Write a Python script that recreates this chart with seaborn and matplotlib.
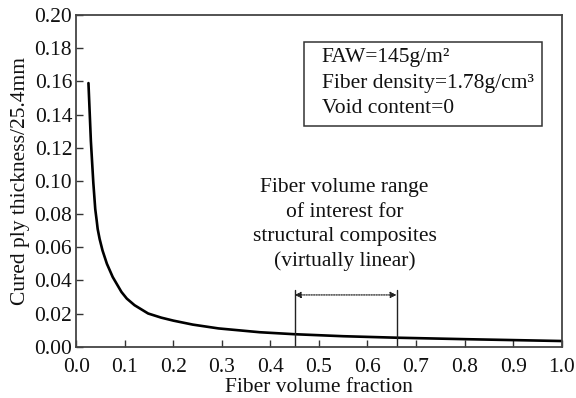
import matplotlib
matplotlib.use("Agg")
import matplotlib.pyplot as plt
from matplotlib.patches import Rectangle
import seaborn as sns
import pandas as pd

# Data
fiber_volume = [0.025, 0.030, 0.035, 0.039, 0.042, 0.044, 0.048, 0.054, 0.063, 0.075,
                0.083, 0.093, 0.104, 0.120, 0.148, 0.175, 0.200, 0.240, 0.293, 0.378,
                0.450, 0.550, 0.660, 0.804, 1.000]
ply_thickness = [0.159, 0.124, 0.099, 0.083, 0.076, 0.071, 0.065, 0.058, 0.050, 0.042,
                 0.038, 0.033, 0.029, 0.025, 0.020, 0.0175, 0.0157, 0.0133, 0.0110, 0.0087,
                 0.0075, 0.0063, 0.0054, 0.0045, 0.0034]

range_bounds = [0.45, 0.66]
x_ticks = [0.0, 0.1, 0.2, 0.3, 0.4, 0.5, 0.6, 0.7, 0.8, 0.9, 1.0]
y_ticks = [0.00, 0.02, 0.04, 0.06, 0.08, 0.10, 0.12, 0.14, 0.16, 0.18, 0.20]
box_lines = ["FAW=145g/m²", "Fiber density=1.78g/cm³", "Void content=0"]
range_label = ["Fiber volume range", "of interest for", "structural composites", "(virtually linear)"]

sns.set_style("ticks")
plt.rcParams["font.family"] = ["Liberation Serif", "DejaVu Serif"]

df = pd.DataFrame({"vf": fiber_volume, "t": ply_thickness})

fig = plt.figure(figsize=(5.76, 3.98), dpi=100)
ax = fig.add_axes([0.1325, 0.129, 0.8425, 0.833])

sns.lineplot(data=df, x="vf", y="t", ax=ax, color="black", linewidth=1.9, sort=True)

FS = 15.5
ax.set_xlim(0.0, 1.0)
ax.set_ylim(0.0, 0.20)
ax.set_xticks(x_ticks)
ax.set_yticks(y_ticks)
ax.set_xticklabels([f"{v:.1f}" for v in x_ticks])
ax.set_yticklabels([f"{v:.2f}" for v in y_ticks])
ax.tick_params(direction="in", length=5, width=1.0, color="#333333",
               labelsize=FS, labelcolor="#111111", top=False, right=False)
ax.tick_params(axis="x", pad=8)
ax.tick_params(axis="y", pad=3)
for sp in ax.spines.values():
    sp.set_visible(True)
    sp.set_color("#444444")
    sp.set_linewidth(1.3)

ax.set_xlabel("Fiber volume fraction", fontsize=FS, color="#111111", labelpad=1)
ax.set_ylabel("Cured ply thickness/25.4mm", fontsize=FS, color="#111111", labelpad=3)

# range markers
for b in range_bounds:
    ax.plot([b, b], [0.0, 0.0342], color="#222222", linewidth=1.0)
ax.annotate("", xy=(range_bounds[1], 0.0312), xytext=(range_bounds[0], 0.0312),
            arrowprops=dict(arrowstyle="<|-|>", color="#222222", lw=0.9,
                            linestyle=(0, (1, 1)), shrinkA=0, shrinkB=0,
                            mutation_scale=9))

ax.text(0.553, 0.0734, "\n".join(range_label), ha="center", va="center",
        fontsize=FS, color="#111111", linespacing=1.38)

# parameter box
ax.text(0.5056, 0.795, "\n".join(box_lines), transform=ax.transAxes,
        ha="left", va="center", fontsize=FS, color="#111111", linespacing=1.45)
ax.add_patch(Rectangle((0.469, 0.665), 0.49, 0.254, transform=ax.transAxes,
                       fill=False, edgecolor="#333333", linewidth=1.1))

ax.grid(False)
fig.savefig("out.png", dpi=100)
